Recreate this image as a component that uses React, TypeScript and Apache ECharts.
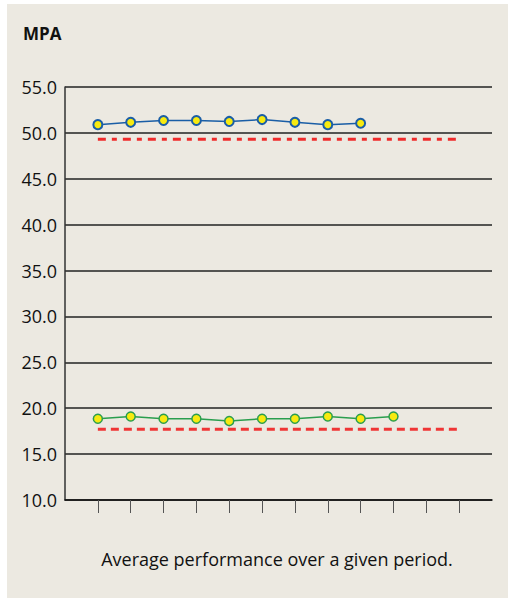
import React, { useEffect, useRef } from "react";
import * as echarts from "echarts";

const categories = ["", "1", "2", "3", "4", "5", "6", "7", "8", "9", "10", "11", "12", ""];
const upperSeries = [50.9, 51.15, 51.35, 51.35, 51.25, 51.45, 51.15, 50.9, 51.05];
const lowerSeries = [18.85, 19.1, 18.85, 18.85, 18.6, 18.85, 18.85, 19.1, 18.85, 19.1];
const upperTarget = 49.3;
const lowerTarget = 17.7;
const targetFrom = 1;
const targetTo = 12;
const yTicks = { min: 10, max: 55, interval: 5 };
const yTitle = "MPA";
const caption = "Average performance over a given period.";

export default function App() {
  const ref = useRef<HTMLDivElement>(null);
  useEffect(() => {
    if (!ref.current) return;
    const chart = echarts.init(ref.current, null, { renderer: "svg" });
    const targetIdx = categories.map((_, i) => i).filter((i) => i >= targetFrom && i <= targetTo);
    const font = "Open Sans";
    chart.setOption({
      animation: false,
      backgroundColor: "#ece9e1",
      textStyle: { fontFamily: font },
      grid: { left: 58, top: 83, right: 16, bottom: 98 },
      xAxis: {
        type: "category",
        data: categories,
        boundaryGap: false,
        axisLine: { show: true, lineStyle: { color: "#111", width: 1.5 } },
        axisTick: {
          show: true,
          length: 13,
          interval: (i: number) => i >= 1 && i <= 12,
          lineStyle: { color: "#555", width: 1 },
        },
        axisLabel: { show: false },
        splitLine: { show: false },
      },
      yAxis: {
        type: "value",
        min: yTicks.min,
        max: yTicks.max,
        interval: yTicks.interval,
        axisLine: { show: true, lineStyle: { color: "#333", width: 1.5 } },
        axisTick: { show: false },
        axisLabel: {
          formatter: (v: number) => v.toFixed(1),
          color: "#111",
          fontSize: 18,
          margin: 8,
          fontFamily: font,
        },
        splitLine: { show: true, lineStyle: { color: "#222", width: 1.5 } },
      },
      graphic: [
        {
          type: "text",
          left: 16,
          top: 21,
          style: { text: yTitle, fontSize: 17, fontWeight: "bold", fill: "#111", fontFamily: font },
        },
        {
          type: "text",
          x: 270,
          y: 555,
          style: {
            text: caption,
            fontSize: 18,
            fill: "#111",
            align: "center",
            verticalAlign: "middle",
            fontFamily: font,
          },
        },
      ],
      series: [
        {
          type: "line",
          data: targetIdx.map((i) => [i, upperTarget]),
          symbol: "none",
          lineStyle: { color: "#ef2b2b", width: 3, type: [8, 6, 5, 6], cap: "butt" },
          z: 2,
        },
        {
          type: "line",
          data: targetIdx.map((i) => [i, lowerTarget]),
          symbol: "none",
          lineStyle: { color: "#ef3535", width: 3, type: [8, 5], cap: "butt" },
          z: 2,
        },
        {
          type: "line",
          data: upperSeries.map((v, i) => [i + 1, v]),
          symbol: "circle",
          symbolSize: 9,
          itemStyle: { color: "#f7ea10", borderColor: "#1a5ea6", borderWidth: 2 },
          lineStyle: { color: "#1a5ea6", width: 1.5 },
          z: 3,
        },
        {
          type: "line",
          data: lowerSeries.map((v, i) => [i + 1, v]),
          symbol: "circle",
          symbolSize: 9,
          itemStyle: { color: "#f7ea10", borderColor: "#2a9e4e", borderWidth: 1.5 },
          lineStyle: { color: "#2a9e4e", width: 1.5 },
          z: 3,
        },
      ],
    });
    return () => chart.dispose();
  }, []);
  return (
    <div style={{ position: "fixed", left: 0, top: 0, width: 508, height: 598, background: "#ffffff" }}>
      <div ref={ref} style={{ position: "absolute", left: 7, top: 4, width: 501, height: 594 }} />
    </div>
  );
}
